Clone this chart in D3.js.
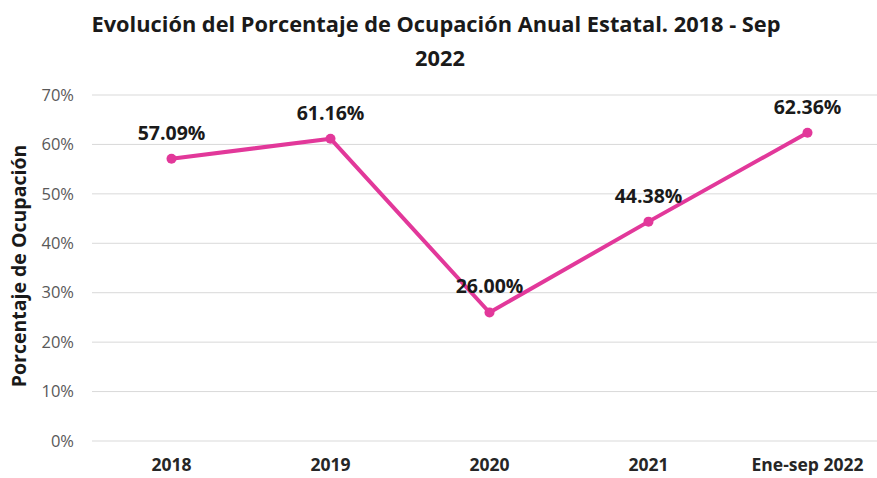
<!DOCTYPE html>
<html>
<head>
<meta charset="utf-8">
<script src="https://d3js.org/d3.v7.min.js"></script>
<style>
  body { margin: 0; background: #fff; }
  text { font-family: "Open Sans", "Noto Sans", sans-serif; }
</style>
</head>
<body>
<svg width="877" height="478"></svg>
<script>
var years = ["2018", "2019", "2020", "2021", "Ene-sep 2022"]
var ocupacion = [57.09, 61.16, 26.00, 44.38, 62.36]
var yTicks = [0, 10, 20, 30, 40, 50, 60, 70]

var svg = d3.select("svg")
var lineColor = "#e2389a"

var x = d3.scaleBand().domain(years).range([92, 887])
var y = d3.scaleLinear().domain([0, 70]).range([441, 95])

// grid lines
svg.append("g")
  .selectAll("line")
  .data(yTicks)
  .join("line")
  .attr("x1", 92)
  .attr("x2", 877)
  .attr("y1", d => y(d))
  .attr("y2", d => y(d))
  .attr("stroke", "#d9d9d9")
  .attr("stroke-width", 1)

// y axis labels
var yAxis = svg.append("g")
  .attr("transform", "translate(82,0)")
  .call(d3.axisLeft(y).tickValues(yTicks).tickFormat(d => d + "%").tickSize(0).tickPadding(8))
yAxis.select(".domain").remove()
yAxis.selectAll("text")
  .attr("fill", "#595959")
  .style("font-size", "16.5px")
  .style("font-family", "'Open Sans', sans-serif")

// x axis labels
var xAxis = svg.append("g")
  .attr("transform", "translate(0,451)")
  .call(d3.axisBottom(x).tickSize(0).tickPadding(8))
xAxis.select(".domain").remove()
xAxis.selectAll("text")
  .attr("fill", "#262626")
  .style("font-size", "17.5px")
  .style("font-weight", "bold")
  .style("font-family", "'Open Sans', sans-serif")

// line
var line = d3.line()
  .x((d, i) => x(years[i]) + x.bandwidth() / 2)
  .y(d => y(d))

svg.append("path")
  .datum(ocupacion)
  .attr("d", line)
  .attr("fill", "none")
  .attr("stroke", lineColor)
  .attr("stroke-width", 4)
  .attr("stroke-linejoin", "round")

svg.append("g")
  .selectAll("circle")
  .data(ocupacion)
  .join("circle")
  .attr("cx", (d, i) => x(years[i]) + x.bandwidth() / 2)
  .attr("cy", d => y(d))
  .attr("r", 5)
  .attr("fill", lineColor)

// data labels
svg.append("g")
  .selectAll("text")
  .data(ocupacion)
  .join("text")
  .attr("x", (d, i) => x(years[i]) + x.bandwidth() / 2)
  .attr("y", d => y(d) - 19)
  .attr("text-anchor", "middle")
  .attr("fill", "#1a1a1a")
  .style("font-size", "19.5px")
  .style("font-weight", "bold")
  .text(d => d.toFixed(2) + "%")

// y axis title
svg.append("text")
  .attr("transform", "translate(26,266) rotate(-90)")
  .attr("text-anchor", "middle")
  .attr("fill", "#1a1a1a")
  .style("font-size", "19.5px")
  .style("font-weight", "bold")
  .text("Porcentaje de Ocupación")

// title
var title = svg.append("text")
  .attr("text-anchor", "middle")
  .attr("fill", "#1a1a1a")
  .style("font-size", "21.8px")
  .style("font-weight", "bold")
title.append("tspan").attr("x", 436).attr("y", 32).text("Evolución del Porcentaje de Ocupación Anual Estatal. 2018 - Sep")
title.append("tspan").attr("x", 440).attr("y", 66).text("2022")
</script>
</body>
</html>
